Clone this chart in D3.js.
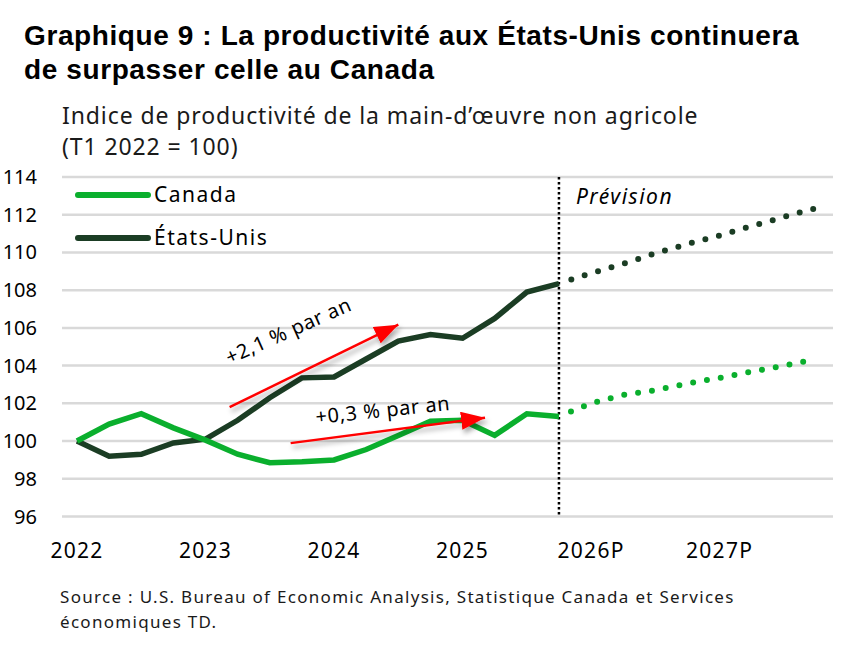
<!DOCTYPE html>
<html>
<head>
<meta charset="utf-8">
<script src="https://cdn.jsdelivr.net/npm/d3@7"></script>
<style>
  body { margin: 0; background: #fff; }
  svg { font-family: "Noto Sans", sans-serif; }
  .title { font-family: "Liberation Sans", Arial, sans-serif; font-weight: bold; font-size: 28px; letter-spacing: 0.6px; fill: #000; }
  .sub { font-size: 23px; letter-spacing: 0.9px; fill: #1a1a1a; }
  .ylbl { font-size: 20px; fill: #000; }
  .xlbl { font-size: 21px; letter-spacing: 1.3px; fill: #000; }
  .lbl { font-size: 21px; letter-spacing: 1.5px; fill: #000; }
  .note { font-size: 20px; letter-spacing: 0.6px; fill: #000; }
  .src { font-size: 17px; letter-spacing: 1.3px; fill: #1a1a1a; }
</style>
</head>
<body>
<script>
// Data: quarterly index, Q1 2022 = 100
var years = ["2022", "2023", "2024", "2025", "2026P", "2027P"];
var yTicks = [96, 98, 100, 102, 104, 106, 108, 110, 112, 114];

// historic, Q1 2022 to Q4 2025
var canadaHist = [100, 100.9, 101.45, 100.7, 100.05, 99.3, 98.85, 98.9,
                  99.0, 99.55, 100.3, 101.05, 101.1, 100.3, 101.45, 101.3];
var usHist = [100, 99.2, 99.3, 99.9, 100.1, 101.1, 102.3, 103.35,
              103.4, 104.35, 105.3, 105.65, 105.45, 106.5, 107.9, 108.35];

// forecast, Q4 2025 to Q4 2027
var canadaFcst = [101.3, 102.0, 102.45, 102.7, 103.05, 103.35, 103.68, 104.0, 104.35];
var usFcst = [108.35, 108.9, 109.4, 109.95, 110.45, 110.9, 111.4, 111.88, 112.35];

var lastHist = 15; // index of Q4 2025

// Annotations (quarter index, index value)
var usArrow = { x0: 4.75, y0: 101.8, x1: 10.0, y1: 106.17, label: "+2,1 % par an", lx: 4.75, ly: 104.05, rot: -24 };
var caArrow = { x0: 6.65, y0: 99.89, x1: 12.7, y1: 101.24, label: "+0,3 % par an", lx: 7.45, ly: 100.9, rot: -6 };

// Step 1: svg
var svgWidth = 868;
var svgHeight = 648;

var svg = d3.select("body")
  .append("svg")
  .attr("width", svgWidth)
  .attr("height", svgHeight);

// drop shadow for the red arrows
var defs = svg.append("defs");
defs.append("filter")
  .attr("id", "shadow")
  .attr("x", "-20%").attr("y", "-50%")
  .attr("width", "140%").attr("height", "200%")
  .append("feDropShadow")
  .attr("dx", 2).attr("dy", 4)
  .attr("stdDeviation", 2.5)
  .attr("flood-color", "#000")
  .attr("flood-opacity", 0.35);

defs.append("marker")
  .attr("id", "head")
  .attr("viewBox", "0 0 24 18")
  .attr("refX", 24).attr("refY", 9)
  .attr("markerWidth", 24).attr("markerHeight", 18)
  .attr("markerUnits", "userSpaceOnUse")
  .attr("orient", "auto")
  .append("path")
  .attr("d", "M0,0L24,9L0,18Z")
  .attr("fill", "#ff0000");

// Step 2: scales (quarter index 0..23)
var xScale = d3.scaleLinear().domain([0, 23]).range([77, 816]);
var yScale = d3.scaleLinear().domain([96, 114]).range([516.5, 177]);

// Titles
var title = svg.append("text").attr("class", "title").attr("x", 24).attr("y", 45);
title.append("tspan").text("Graphique 9 : La productivité aux États-Unis continuera");
title.append("tspan").attr("x", 24).attr("y", 79).text("de surpasser celle au Canada");

var sub = svg.append("text").attr("class", "sub").attr("x", 62).attr("y", 124);
sub.append("tspan").text("Indice de productivité de la main-d’œuvre non agricole");
sub.append("tspan").attr("x", 62).attr("y", 155).text("(T1 2022 = 100)");

// Gridlines + y labels
svg.append("g")
  .selectAll("line")
  .data(yTicks)
  .enter()
  .append("line")
  .attr("x1", 62).attr("x2", 833)
  .attr("y1", function(d) { return yScale(d); })
  .attr("y2", function(d) { return yScale(d); })
  .attr("stroke", "#d9d9d9")
  .attr("stroke-width", 2.5);

svg.append("g")
  .selectAll("text")
  .data(yTicks)
  .enter()
  .append("text")
  .attr("class", "ylbl")
  .attr("x", 37)
  .attr("y", function(d) { return yScale(d); })
  .attr("dy", "0.35em")
  .attr("text-anchor", "end")
  .text(function(d) { return d; });

// x labels, on each Q1
svg.append("g")
  .selectAll("text")
  .data(years)
  .enter()
  .append("text")
  .attr("class", "xlbl")
  .attr("x", function(d, i) { return xScale(i * 4); })
  .attr("y", 558)
  .attr("text-anchor", "middle")
  .text(function(d) { return d; });

// forecast divider
svg.append("line")
  .attr("x1", xScale(lastHist)).attr("x2", xScale(lastHist))
  .attr("y1", yScale(114)).attr("y2", yScale(96))
  .attr("stroke", "#000")
  .attr("stroke-width", 2.5)
  .attr("stroke-dasharray", "2.5,2.5");

svg.append("text")
  .attr("class", "lbl")
  .attr("x", xScale(lastHist) + 17)
  .attr("y", 204)
  .style("font-style", "italic")
  .text("Prévision");

// Step 3: lines
var line = d3.line()
  .x(function(d) { return xScale(d.q); })
  .y(function(d) { return yScale(d.v); });

function hist(arr) {
  return arr.map(function(v, i) { return { q: i, v: v }; });
}
function fcst(arr) {
  return arr.map(function(v, i) { return { q: lastHist + i, v: v }; });
}

var series = [
  { name: "Canada", color: "#0aaf2d", hist: canadaHist, fcst: canadaFcst },
  { name: "États-Unis", color: "#1b3d24", hist: usHist, fcst: usFcst }
];

// draw US first so Canada sits on top where they cross
series.slice().reverse().forEach(function(s) {
  svg.append("path")
    .datum(hist(s.hist))
    .attr("d", line)
    .attr("fill", "none")
    .attr("stroke", s.color)
    .attr("stroke-width", 5.5);

  svg.append("path")
    .datum(fcst(s.fcst))
    .attr("d", line)
    .attr("fill", "none")
    .attr("stroke", s.color)
    .attr("stroke-width", 6)
    .attr("stroke-linecap", "round")
    .attr("stroke-dasharray", "0,14")
    .attr("stroke-dashoffset", 1);
});

// Legend
var legend = svg.append("g")
  .selectAll("g")
  .data(series)
  .enter()
  .append("g")
  .attr("transform", function(d, i) { return "translate(78," + (195 + i * 43) + ")"; });

legend.append("line")
  .attr("x1", 0).attr("x2", 70)
  .attr("stroke", function(d) { return d.color; })
  .attr("stroke-width", 6)
  .attr("stroke-linecap", "round");

legend.append("text")
  .attr("class", "lbl")
  .attr("x", 76)
  .attr("dy", "0.35em")
  .text(function(d) { return d.name; });

// Arrows + labels
[usArrow, caArrow].forEach(function(a) {
  svg.append("line")
    .attr("x1", xScale(a.x0)).attr("y1", yScale(a.y0))
    .attr("x2", xScale(a.x1)).attr("y2", yScale(a.y1))
    .attr("stroke", "#ff0000")
    .attr("stroke-width", 2.5)
    .attr("marker-end", "url(#head)")
    .attr("filter", "url(#shadow)");

  svg.append("text")
    .attr("class", "note")
    .attr("transform", "translate(" + xScale(a.lx) + "," + yScale(a.ly) + ") rotate(" + a.rot + ")")
    .text(a.label);
});

// Source
var src = svg.append("text").attr("class", "src").attr("x", 60).attr("y", 603);
src.append("tspan").text("Source : U.S. Bureau of Economic Analysis, Statistique Canada et Services");
src.append("tspan").attr("x", 60).attr("y", 628).text("économiques TD.");
</script>
</body>
</html>
